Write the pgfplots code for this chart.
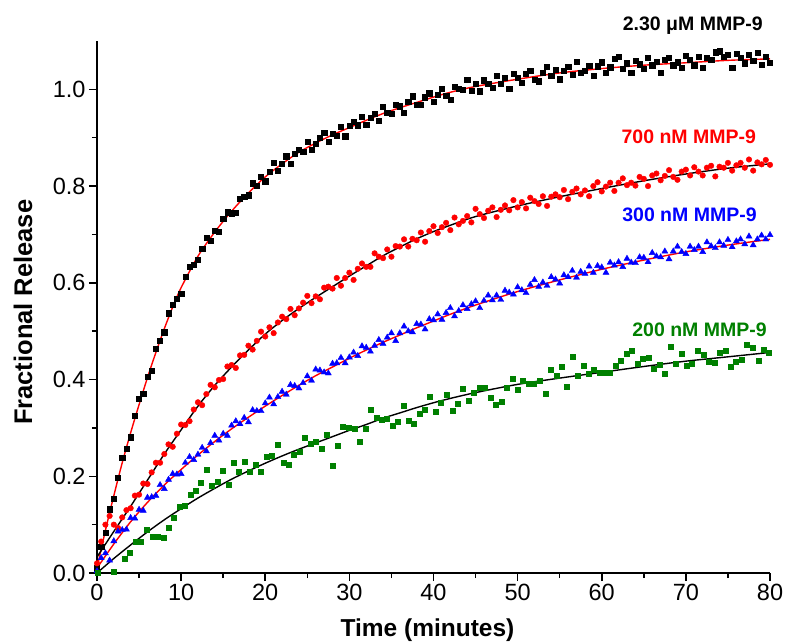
\documentclass[border=0pt]{standalone}
\usepackage{pgfplots}
\pgfplotsset{compat=1.18}
\usepackage{fontspec}
\setmainfont{Liberation Sans}
\definecolor{dgreen}{RGB}{0,128,0}
\begin{document}
\begin{tikzpicture}[x=1pt,y=1pt]
\path[use as bounding box] (-97,-68) rectangle (690,573);
\begin{axis}[
  at={(0,0)}, anchor=south west,
  scale only axis, width=673pt, height=532pt,
  xmin=0, xmax=80, ymin=0, ymax=1.1,
  axis x line=bottom, axis y line=left,
  axis line style={line width=1.8pt,-},
  xtick={0,10,20,30,40,50,60,70,80}, minor x tick num=1,
  ytick={0,0.2,0.4,0.6,0.8,1.0}, minor y tick num=1,
  tick align=outside,
  major tick length=8pt, minor tick length=5pt,
  every tick/.style={black, line width=1.5pt},
  /pgf/number format/assume math mode=true,
  ticklabel style={font=\fontsize{23.5}{28}\selectfont},
  yticklabel style={/pgf/number format/.cd, fixed, fixed zerofill, precision=1},
  xlabel={\bfseries Time (minutes)},
  ylabel={\bfseries Fractional Release},
  xlabel style={font=\fontsize{24.5}{28}\selectfont, at={(axis description cs:0.5,0)}, anchor=base, yshift=-63pt, xshift=-6pt},
  ylabel style={font=\fontsize{25.5}{30}\selectfont, at={(axis description cs:-0.110,0.49)}, anchor=center},
  clip=false,
]
% 2.30 uM data (black squares)
\addplot[only marks, mark=square*, mark size=2.6pt, black] coordinates {
(0,0.010)(0.5,0.054)(1,0.084)(1.5,0.132)(2,0.154)(2.5,0.197)(3,0.238)(3.5,0.257)(4,0.281)(4.5,0.325)
(5,0.360)(5.5,0.371)(6,0.406)(6.5,0.419)(7,0.463)(7.5,0.481)(8,0.498)(8.5,0.537)(9,0.554)(9.5,0.567)
(10,0.578)(10.5,0.612)(11,0.634)(11.5,0.638)(12,0.647)(12.5,0.671)(13,0.694)(13.5,0.687)(14,0.707)(14.5,0.706)
(15,0.732)(15.5,0.746)(16,0.744)(16.5,0.745)(17,0.774)(17.5,0.778)(18,0.781)(18.5,0.806)(19,0.801)(19.5,0.819)
(20,0.810)(20.5,0.830)(21,0.848)(21.5,0.832)(22,0.846)(22.5,0.862)(23,0.846)(23.5,0.867)(24,0.876)(24.5,0.871)
(25,0.891)(25.5,0.876)(26,0.888)(26.5,0.900)(27,0.911)(27.5,0.892)(28,0.908)(28.5,0.905)(29,0.923)(29.5,0.903)
(30,0.925)(30.5,0.933)(31,0.926)(31.5,0.944)(32,0.927)(32.5,0.941)(33,0.949)(33.5,0.936)(34,0.964)(34.5,0.951)
(35,0.950)(35.5,0.969)(36,0.965)(36.5,0.952)(37,0.975)(37.5,0.986)(38,0.969)(38.5,0.968)(39,0.984)(39.5,0.992)
(40,0.974)(40.5,0.989)(41,1.002)(41.5,0.987)(42,0.979)(42.5,1.005)(43,1.002)(43.5,0.999)(44,1.020)(44.5,0.997)
(45,1.012)(45.5,0.996)(46,1.019)(46.5,1.012)(47,1.003)(47.5,1.029)(48,1.012)(48.5,1.024)(49,1.002)(49.5,1.032)
(50,1.024)(50.5,1.014)(51,1.033)(51.5,1.039)(52,1.020)(52.5,1.017)(53,1.034)(53.5,1.047)(54,1.029)(54.5,1.041)
(55,1.021)(55.5,1.039)(56,1.047)(56.5,1.030)(57,1.058)(57.5,1.035)(58,1.039)(58.5,1.049)(59,1.029)(59.5,1.048)
(60,1.056)(60.5,1.035)(61,1.046)(61.5,1.063)(62,1.068)(62.5,1.042)(63,1.054)(63.5,1.034)(64,1.059)(64.5,1.052)
(65,1.042)(65.5,1.066)(66,1.050)(66.5,1.058)(67,1.035)(67.5,1.062)(68,1.065)(68.5,1.050)(69,1.056)(69.5,1.045)
(70,1.069)(70.5,1.061)(71,1.050)(71.5,1.068)(72,1.044)(72.5,1.066)(73,1.061)(73.5,1.077)(74,1.079)(74.5,1.068)
(75,1.072)(75.5,1.045)(76,1.073)(76.5,1.065)(77,1.054)(77.5,1.072)(78,1.059)(78.5,1.075)(79,1.051)(79.5,1.068)
(80,1.055)};
% 700 nM data (red circles)
\addplot[only marks, mark=*, mark size=2.8pt, red] coordinates {
(0,0.020)(0.5,0.065)(1,0.100)(1.5,0.118)(2,0.100)(2.5,0.093)(3,0.115)(3.5,0.130)(4,0.134)(4.5,0.160)
(5,0.162)(5.5,0.185)(6,0.184)(6.5,0.208)(7,0.228)(7.5,0.228)(8,0.246)(8.5,0.266)(9,0.261)(9.5,0.288)
(10,0.307)(10.5,0.306)(11,0.314)(11.5,0.338)(12,0.353)(12.5,0.347)(13,0.370)(13.5,0.389)(14,0.384)(14.5,0.399)
(15,0.401)(15.5,0.427)(16,0.430)(16.5,0.424)(17,0.450)(17.5,0.451)(18,0.470)(18.5,0.462)(19,0.480)(19.5,0.499)
(20,0.489)(20.5,0.508)(21,0.496)(21.5,0.518)(22,0.530)(22.5,0.525)(23,0.546)(23.5,0.533)(24,0.547)(24.5,0.559)
(25,0.573)(25.5,0.558)(26,0.572)(26.5,0.566)(27,0.590)(27.5,0.592)(28,0.588)(28.5,0.610)(29,0.594)(29.5,0.610)
(30,0.621)(30.5,0.606)(31,0.629)(31.5,0.640)(32,0.633)(32.5,0.633)(33,0.661)(33.5,0.654)(34,0.651)(34.5,0.669)
(35,0.654)(35.5,0.676)(36,0.675)(36.5,0.690)(37,0.675)(37.5,0.691)(38,0.688)(38.5,0.704)(39,0.685)(39.5,0.707)
(40,0.717)(40.5,0.703)(41,0.715)(41.5,0.724)(42,0.709)(42.5,0.735)(43,0.721)(43.5,0.728)(44,0.738)(44.5,0.725)
(45,0.753)(45.5,0.742)(46,0.734)(46.5,0.749)(47,0.756)(47.5,0.736)(48,0.751)(48.5,0.760)(49,0.750)(49.5,0.771)
(50,0.756)(50.5,0.767)(51,0.754)(51.5,0.776)(52,0.769)(52.5,0.763)(53,0.779)(53.5,0.759)(54,0.778)(54.5,0.783)
(55,0.777)(55.5,0.792)(56,0.773)(56.5,0.788)(57,0.795)(57.5,0.783)(58,0.791)(58.5,0.779)(59,0.800)(59.5,0.808)
(60,0.789)(60.5,0.799)(61,0.807)(61.5,0.790)(62,0.807)(62.5,0.816)(63,0.802)(63.5,0.807)(64,0.801)(64.5,0.819)
(65,0.815)(65.5,0.800)(66,0.822)(66.5,0.826)(67,0.812)(67.5,0.821)(68,0.833)(68.5,0.819)(69,0.813)(69.5,0.830)
(70,0.834)(70.5,0.822)(71,0.839)(71.5,0.830)(72,0.822)(72.5,0.838)(73,0.842)(73.5,0.820)(74,0.840)(74.5,0.838)
(75,0.848)(75.5,0.832)(76,0.843)(76.5,0.848)(77,0.838)(77.5,0.855)(78,0.832)(78.5,0.849)(79,0.845)(79.5,0.854)
(80,0.844)};
% 300 nM data (blue triangles)
\addplot[only marks, mark=triangle*, mark size=3.5pt, blue] coordinates {
(0,0.004)(0.5,0.031)(1,0.041)(1.5,0.026)(2,0.066)(2.5,0.086)(3,0.089)(3.5,0.090)(4,0.114)(4.5,0.113)
(5,0.131)(5.5,0.129)(6,0.156)(6.5,0.157)(7,0.160)(7.5,0.182)(8,0.174)(8.5,0.193)(9,0.205)(9.5,0.204)
(10,0.205)(10.5,0.228)(11,0.240)(11.5,0.234)(12,0.245)(12.5,0.259)(13,0.252)(13.5,0.269)(14,0.284)(14.5,0.274)
(15,0.288)(15.5,0.284)(16,0.305)(16.5,0.314)(17,0.308)(17.5,0.321)(18,0.312)(18.5,0.337)(19,0.335)(19.5,0.335)
(20,0.351)(20.5,0.363)(21,0.349)(21.5,0.364)(22,0.375)(22.5,0.369)(23,0.389)(23.5,0.387)(24,0.382)(24.5,0.393)
(25,0.407)(25.5,0.398)(26,0.421)(26.5,0.419)(27,0.415)(27.5,0.413)(28,0.433)(28.5,0.434)(29,0.445)(29.5,0.434)
(30,0.446)(30.5,0.456)(31,0.449)(31.5,0.469)(32,0.466)(32.5,0.458)(33,0.470)(33.5,0.482)(34,0.474)(34.5,0.487)
(35,0.496)(35.5,0.480)(36,0.496)(36.5,0.510)(37,0.500)(37.5,0.498)(38,0.515)(38.5,0.514)(39,0.504)(39.5,0.525)
(40,0.523)(40.5,0.535)(41,0.524)(41.5,0.538)(42,0.548)(42.5,0.531)(43,0.542)(43.5,0.554)(44,0.546)(44.5,0.556)
(45,0.562)(45.5,0.548)(46,0.563)(46.5,0.574)(47,0.564)(47.5,0.574)(48,0.565)(48.5,0.584)(49,0.580)(49.5,0.576)
(50,0.591)(50.5,0.585)(51,0.579)(51.5,0.596)(52,0.606)(52.5,0.592)(53,0.601)(53.5,0.594)(54,0.612)(54.5,0.607)
(55,0.599)(55.5,0.616)(56,0.612)(56.5,0.625)(57,0.611)(57.5,0.623)(58,0.619)(58.5,0.634)(59,0.621)(59.5,0.635)
(60,0.632)(60.5,0.621)(61,0.642)(61.5,0.636)(62,0.643)(62.5,0.633)(63,0.650)(63.5,0.642)(64,0.641)(64.5,0.653)
(65,0.652)(65.5,0.643)(66,0.662)(66.5,0.655)(67,0.653)(67.5,0.665)(68,0.649)(68.5,0.665)(69,0.675)(69.5,0.664)
(70,0.660)(70.5,0.675)(71,0.668)(71.5,0.675)(72,0.664)(72.5,0.684)(73,0.676)(73.5,0.672)(74,0.684)(74.5,0.677)
(75,0.689)(75.5,0.674)(76,0.686)(76.5,0.690)(77,0.680)(77.5,0.696)(78,0.678)(78.5,0.690)(79,0.698)(79.5,0.690)
(80,0.699)};
% 200 nM data (green squares)
\addplot[only marks, mark=square*, mark size=2.5pt, dgreen] coordinates {
(0.1,0.001)(1.94,0.003)(3.33,0.030)(3.92,0.042)(4.6,0.065)(5.23,0.065)(5.9,0.089)(6.58,0.075)(7.17,0.076)(7.89,0.074)
(8.48,0.093)(9.16,0.115)(9.79,0.137)(10.39,0.140)(11.1,0.161)(11.7,0.171)(12.37,0.187)(13.0,0.214)(13.6,0.180)(14.3,0.189)
(15.0,0.211)(15.6,0.182)(16.25,0.228)(16.9,0.209)(17.6,0.231)(18.2,0.209)(18.9,0.223)(19.5,0.210)(20.2,0.240)(20.8,0.242)
(21.5,0.265)(22.2,0.228)(22.8,0.223)(23.4,0.244)(24.1,0.251)(24.7,0.280)(25.4,0.267)(26.0,0.271)(26.7,0.258)(27.3,0.287)
(28.0,0.222)(28.6,0.263)(29.25,0.302)(29.9,0.300)(30.6,0.298)(31.2,0.271)(31.9,0.298)(32.5,0.337)(33.2,0.322)(33.8,0.318)
(34.45,0.320)(35.1,0.304)(35.75,0.312)(36.4,0.345)(37.1,0.314)(37.7,0.308)(38.3,0.329)(39.0,0.337)(39.6,0.364)(40.3,0.333)
(40.9,0.353)(41.6,0.368)(42.25,0.335)(42.9,0.350)(43.5,0.382)(44.2,0.357)(44.8,0.373)(45.45,0.384)(46.1,0.384)(46.8,0.362)
(47.4,0.348)(48.1,0.354)(48.7,0.384)(49.4,0.401)(50.0,0.379)(50.65,0.397)(51.3,0.392)(51.95,0.392)(52.6,0.398)(53.3,0.370)
(53.9,0.421)(54.6,0.407)(55.2,0.426)(55.85,0.385)(56.5,0.447)(57.2,0.407)(57.8,0.428)(58.5,0.413)(59.1,0.421)(59.7,0.415)
(60.4,0.414)(61.0,0.414)(61.7,0.429)(62.3,0.439)(63.0,0.454)(63.6,0.460)(64.3,0.433)(64.9,0.443)(65.55,0.446)(66.2,0.423)
(66.9,0.430)(67.5,0.412)(68.2,0.468)(68.8,0.433)(69.5,0.453)(70.1,0.429)(70.75,0.432)(71.4,0.459)(72.1,0.451)(72.7,0.436)
(73.4,0.435)(74.0,0.455)(74.7,0.459)(75.3,0.426)(75.9,0.437)(76.6,0.441)(77.25,0.473)(77.9,0.466)(78.6,0.440)(79.2,0.461)
(79.8,0.455)};
% fit curves
\addplot[red, line width=1.4pt, smooth] coordinates {
(0,0.010)(1,0.088)(2,0.160)(3,0.228)(4,0.290)(5,0.348)(6,0.404)(7,0.456)(8,0.505)(9,0.550)(10,0.590)
(12,0.655)(14,0.705)(16,0.748)(18,0.786)(20,0.819)(22,0.846)(24,0.870)(26,0.889)(28,0.906)(30,0.921)
(32,0.936)(34,0.950)(36,0.962)(38,0.973)(40,0.984)(42,0.994)(45,1.006)(50,1.021)(55,1.034)(60,1.043)
(65,1.050)(70,1.055)(75,1.060)(80,1.063)};
\addplot[black, line width=1.4pt, smooth] coordinates {
(0,0.033)(2,0.086)(4,0.138)(6,0.192)(8,0.246)(10,0.296)(12,0.345)(14,0.388)(16,0.426)(18,0.461)
(20,0.494)(22,0.522)(24,0.547)(26,0.570)(28,0.592)(30,0.614)(32,0.635)(34,0.656)(36,0.674)(38,0.691)
(40,0.706)(42,0.719)(45,0.737)(50,0.759)(55,0.778)(60,0.795)(65,0.811)(70,0.825)(75,0.837)(80,0.846)};
\addplot[red, line width=1.4pt, smooth] coordinates {
(0,0.010)(2,0.060)(4,0.106)(6,0.146)(8,0.182)(10,0.214)(12,0.244)(14,0.272)(16,0.298)(18,0.322)
(20,0.345)(22,0.367)(24,0.388)(26,0.408)(28,0.426)(30,0.444)(32,0.461)(34,0.477)(36,0.492)(38,0.507)
(40,0.521)(42,0.535)(45,0.554)(50,0.582)(55,0.606)(60,0.628)(65,0.647)(70,0.664)(75,0.678)(80,0.690)};
\addplot[black, line width=1.4pt, smooth] coordinates {
(0,0.000)(2,0.030)(4,0.058)(6,0.085)(8,0.110)(10,0.133)(12,0.155)(14,0.175)(16,0.194)(18,0.211)
(20,0.227)(22,0.242)(24,0.256)(26,0.269)(28,0.282)(30,0.295)(32,0.307)(34,0.320)(36,0.331)(38,0.342)
(40,0.352)(42,0.361)(45,0.373)(50,0.390)(55,0.403)(60,0.415)(65,0.427)(70,0.438)(75,0.447)(80,0.456)};
% labels
\node[anchor=base east, inner sep=0pt, font=\fontsize{19.5}{23}\selectfont\bfseries, text=black] at (axis cs:79.15,1.122) {2.30 μM MMP-9};
\node[anchor=base east, inner sep=0pt, font=\fontsize{19.5}{23}\selectfont\bfseries, text=red] at (axis cs:78.36,0.888) {700 nM MMP-9};
\node[anchor=base east, inner sep=0pt, font=\fontsize{19.5}{23}\selectfont\bfseries, text=blue] at (axis cs:78.44,0.726) {300 nM MMP-9};
\node[anchor=base east, inner sep=0pt, font=\fontsize{19.5}{23}\selectfont\bfseries, text=dgreen] at (axis cs:79.63,0.488) {200 nM MMP-9};
\end{axis}
\end{tikzpicture}
\end{document}
